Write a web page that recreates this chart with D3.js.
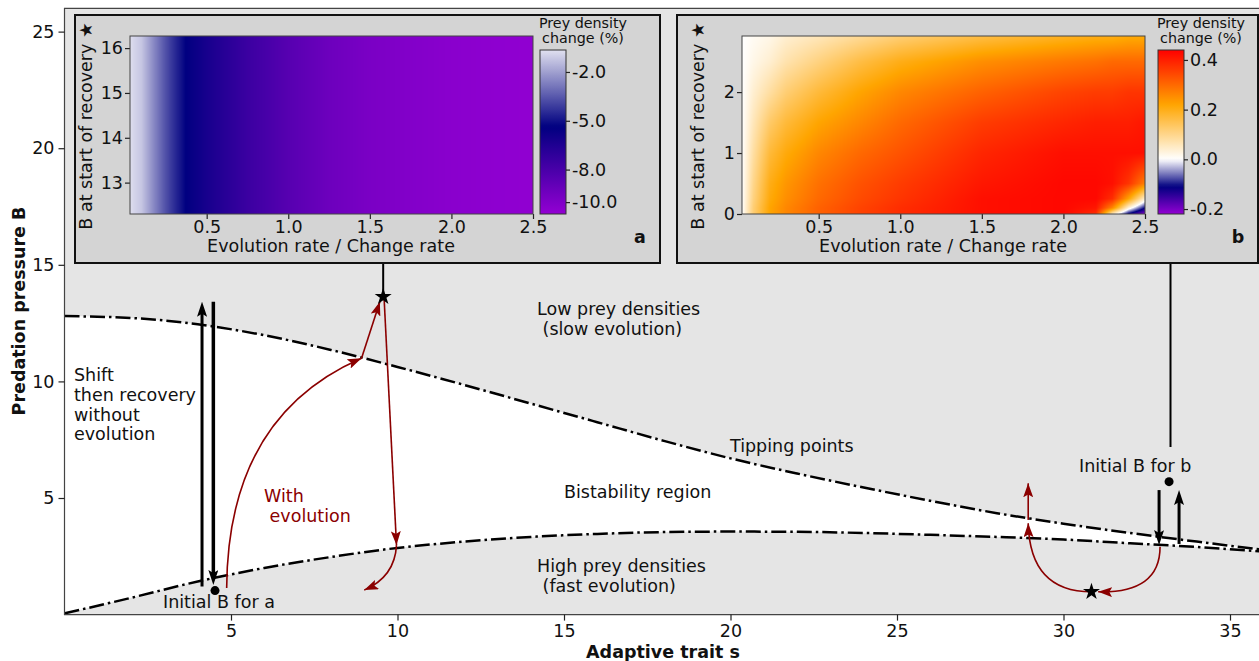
<!DOCTYPE html>
<html>
<head>
<meta charset="utf-8">
<script src="https://cdn.jsdelivr.net/npm/d3@7"></script>
<style>
body { margin: 0; background: #fff; }
text { font-family: "DejaVu Sans", sans-serif; }
</style>
</head>
<body>
<svg id="chart" width="1259" height="661"></svg>
<script>
// main panel: tipping point curves
var traitS = [0, 2, 4, 6, 8, 10, 12, 14, 16, 18, 20, 22, 24, 26, 28, 30, 32, 34, 36];
var upperB = [12.80, 12.72, 12.45, 11.98, 11.35, 10.62, 9.85, 9.05, 8.25, 7.45, 6.70, 6.05, 5.45, 4.88, 4.35, 3.90, 3.50, 3.13, 2.78];
var lowerB = [0.05, 0.72, 1.42, 2.00, 2.47, 2.86, 3.13, 3.33, 3.46, 3.54, 3.56, 3.55, 3.50, 3.42, 3.33, 3.22, 3.06, 2.90, 2.70];
var xTicks = [5, 10, 15, 20, 25, 30, 35];
var yTicks = [5, 10, 15, 20, 25];

// inset a: prey density change, depends on rate only
var rateA = [0.03, 0.1, 0.17, 0.25, 0.3, 0.375, 0.5, 0.75, 1.0, 1.25, 1.5, 1.75, 2.0, 2.25, 2.5];
var changeA = [-0.7, -1.2, -2.4, -3.7, -4.4, -5.4, -6.2, -7.5, -8.5, -9.3, -9.8, -10.1, -10.35, -10.5, -10.6];
var recoveryA = [12.3, 16.27];
var yTicksA = [13, 14, 15, 16];
var cbTicksA = [-2, -5, -8, -10];

// inset b: grid, rows = B at start of recovery, cols = rate
var rateB = [0.03, 0.1, 0.2, 0.3, 0.5, 0.75, 1.0, 1.5, 2.0, 2.2, 2.3, 2.4, 2.5];
var recoveryB = [0, 0.1, 0.25, 0.5, 1.0, 1.5, 2.0, 2.5, 2.92];
var changeB = [
  [0.00, 0.12, 0.22, 0.26, 0.31, 0.35, 0.38, 0.42, 0.43, 0.38, 0.05, -0.12, -0.21],
  [0.00, 0.12, 0.22, 0.26, 0.31, 0.35, 0.38, 0.42, 0.43, 0.41, 0.26, 0.03, -0.11],
  [0.00, 0.11, 0.21, 0.25, 0.30, 0.34, 0.37, 0.42, 0.43, 0.43, 0.38, 0.22, 0.04],
  [0.00, 0.10, 0.20, 0.24, 0.29, 0.33, 0.36, 0.41, 0.43, 0.43, 0.42, 0.37, 0.27],
  [0.00, 0.08, 0.17, 0.21, 0.26, 0.30, 0.33, 0.39, 0.42, 0.42, 0.42, 0.42, 0.42],
  [0.00, 0.06, 0.13, 0.17, 0.22, 0.26, 0.30, 0.36, 0.39, 0.40, 0.40, 0.40, 0.41],
  [0.00, 0.04, 0.08, 0.12, 0.17, 0.22, 0.26, 0.31, 0.35, 0.36, 0.36, 0.37, 0.37],
  [0.00, 0.02, 0.04, 0.07, 0.11, 0.16, 0.20, 0.25, 0.28, 0.29, 0.30, 0.30, 0.30],
  [0.00, 0.01, 0.02, 0.04, 0.06, 0.09, 0.12, 0.16, 0.19, 0.20, 0.20, 0.21, 0.21]
];
var yTicksB = [0, 1, 2];
var cbTicksB = [-0.2, 0, 0.2, 0.4];
var rateTicks = [0.5, 1.0, 1.5, 2.0, 2.5];

// annotation arrows (trait s, B)
var blackArrows = [
  { from: [4.13, 1.2], to: [4.13, 13.42], w: 3 },
  { from: [4.47, 13.42], to: [4.47, 1.27], w: 3.5 },
  { from: [32.87, 5.34], to: [32.87, 2.98], w: 3 },
  { from: [33.47, 3.03], to: [33.47, 5.34], w: 3 }
];
var redArrows = [
  { from: [4.87, 1.14], ctrl: [4.9, 8.5], to: [8.92, 10.99] },
  { from: [8.92, 10.99], to: [9.47, 13.42] },
  { from: [9.6, 13.5], to: [9.97, 2.98] },
  { from: [9.97, 2.98], ctrl: [9.92, 1.62], to: [9.0, 1.05] },
  { from: [32.9, 2.91], ctrl: [32.9, 0.91], to: [31.04, 0.98] },
  { from: [30.84, 0.98], ctrl: [28.99, 0.98], to: [28.94, 3.92] },
  { from: [28.94, 4.06], to: [28.94, 5.63] }
];
var stars = [[9.57, 13.63], [30.84, 0.98]];
var initialDots = [[4.52, 1.03], [33.17, 5.7]];

var FS = 17.5;
var RED = "#8b0000";
var svg = d3.select("#chart");
var defs = svg.append("defs");

var x = d3.scaleLinear().domain([0, 36]).range([64.5, 1263.3]);
var y = d3.scaleLinear().domain([0, 26]).range([614.6, 8.3]);

var cmapB = d3.scaleLinear()
  .domain([-0.22, -0.11, 0, 0.22, 0.44])
  .range(["#9400d3", "#000080", "#ffffff", "#ffa500", "#ff0000"])
  .clamp(true);
var cmapA = d3.scaleLinear()
  .domain([-10.73, -5.365, 0])
  .range(["#9400d3", "#000080", "#ffffff"])
  .clamp(true);

function arrowHead(id, color, len, wid) {
  defs.append("marker")
    .attr("id", id)
    .attr("markerUnits", "userSpaceOnUse")
    .attr("viewBox", (-len) + " " + (-wid / 2) + " " + len + " " + wid)
    .attr("markerWidth", len)
    .attr("markerHeight", wid)
    .attr("refX", 0).attr("refY", 0)
    .attr("orient", "auto")
    .append("path")
    .attr("d", "M0,0L" + (-len) + "," + (-wid / 2) + "L" + (-len * 0.8) + ",0L" + (-len) + "," + (wid / 2) + "Z")
    .attr("fill", color);
}
arrowHead("headK", "#000", 15, 10);
arrowHead("headR", RED, 14, 10);

function styleAxis(g) {
  g.select(".domain").remove();
  g.selectAll(".tick line").attr("stroke", "#222").attr("stroke-width", 1.2);
  g.selectAll(".tick text").attr("font-size", FS).attr("font-family", "DejaVu Sans").attr("fill", "#111");
}

// ---- main axes ----
svg.append("rect")
  .attr("x", x(0)).attr("y", y(26))
  .attr("width", x(36) - x(0)).attr("height", y(0) - y(26))
  .attr("fill", "#e5e5e5");

var idx = d3.range(traitS.length);
svg.append("path")
  .datum(idx)
  .attr("d", d3.area()
    .curve(d3.curveMonotoneX)
    .x(function(i) { return x(traitS[i]); })
    .y0(function(i) { return y(lowerB[i]); })
    .y1(function(i) { return y(upperB[i]); }))
  .attr("fill", "#fff");

[upperB, lowerB].forEach(function(series) {
  svg.append("path")
    .datum(idx)
    .attr("d", d3.line()
      .curve(d3.curveMonotoneX)
      .x(function(i) { return x(traitS[i]); })
      .y(function(i) { return y(series[i]); }))
    .attr("fill", "none")
    .attr("stroke", "#000")
    .attr("stroke-width", 2.5)
    .attr("stroke-dasharray", "15,4,2.5,4");
});

// spines
svg.append("path")
  .attr("d", "M" + x(36) + "," + y(26) + "H" + x(0) + "V" + y(0) + "H" + x(36))
  .attr("fill", "none").attr("stroke", "#444").attr("stroke-width", 1.2);

svg.append("g")
  .attr("transform", "translate(0," + y(0) + ")")
  .call(d3.axisBottom(x).tickValues(xTicks).tickSize(6).tickPadding(4))
  .call(styleAxis);
svg.append("g")
  .attr("transform", "translate(" + x(0) + ",0)")
  .call(d3.axisLeft(y).tickValues(yTicks).tickSize(6).tickPadding(4))
  .call(styleAxis);

svg.append("text")
  .attr("x", 663).attr("y", 658)
  .attr("text-anchor", "middle").attr("font-size", FS).attr("font-weight", "bold").style("fill", "#111")
  .text("Adaptive trait s");
svg.append("text")
  .attr("transform", "translate(25,311) rotate(-90)")
  .attr("text-anchor", "middle").attr("font-size", FS).attr("font-weight", "bold").style("fill", "#111")
  .text("Predation pressure B");

// region labels
function lines(px, py, arr, color) {
  var t = svg.append("text").attr("font-size", FS).style("fill", color || "#111")
    .attr("xml:space", "preserve");
  arr.forEach(function(s, i) {
    t.append("tspan").attr("x", px).attr("y", py + i * 19.8).text(s);
  });
  return t;
}
lines(74, 381, ["Shift", "then recovery", "without", "evolution"]);
lines(264, 502, ["With", " evolution"], RED);
lines(537, 315, ["Low prey densities", " (slow evolution)"]);
lines(537, 572, ["High prey densities", " (fast evolution)"]);
lines(564, 498, ["Bistability region"]);
lines(730, 452, ["Tipping points"]);
lines(163, 608, ["Initial B for a"]);
lines(1079, 472, ["Initial B for b"]);

// connectors from insets
svg.append("line").attr("x1", x(stars[0][0])).attr("x2", x(stars[0][0]))
  .attr("y1", 263).attr("y2", y(stars[0][1]) - 4)
  .attr("stroke", "#000").attr("stroke-width", 2);
svg.append("line").attr("x1", 1170.5).attr("x2", 1170.5)
  .attr("y1", 263).attr("y2", 447)
  .attr("stroke", "#000").attr("stroke-width", 2);

// arrows
blackArrows.forEach(function(a) {
  var x1 = x(a.from[0]), y1 = y(a.from[1]), x2 = x(a.to[0]), y2 = y(a.to[1]);
  var dy = y2 > y1 ? -8 : 8;
  svg.append("line")
    .attr("x1", x1).attr("y1", y1).attr("x2", x2).attr("y2", y2 + dy)
    .attr("stroke", "#000").attr("stroke-width", a.w);
  svg.append("line")
    .attr("x1", x2).attr("y1", y2 + dy * 1.2).attr("x2", x2).attr("y2", y2)
    .attr("stroke", "none").attr("marker-end", "url(#headK)");
});
redArrows.forEach(function(a) {
  var d = "M" + x(a.from[0]) + "," + y(a.from[1]);
  if (a.ctrl) d += "Q" + x(a.ctrl[0]) + "," + y(a.ctrl[1]) + " " + x(a.to[0]) + "," + y(a.to[1]);
  else d += "L" + x(a.to[0]) + "," + y(a.to[1]);
  svg.append("path").attr("d", d)
    .attr("fill", "none").attr("stroke", RED).attr("stroke-width", 1.6)
    .attr("marker-end", "url(#headR)");
});

svg.selectAll(".star").data(stars).enter().append("path")
  .attr("transform", function(d) { return "translate(" + x(d[0]) + "," + y(d[1]) + ")"; })
  .attr("d", d3.symbol().type(d3.symbolStar).size(90))
  .attr("fill", "#000");
svg.selectAll(".dot").data(initialDots).enter().append("circle")
  .attr("cx", function(d) { return x(d[0]); })
  .attr("cy", function(d) { return y(d[1]); })
  .attr("r", 4.5).attr("fill", "#000");

// ---- insets ----
function heatImage(g, xs, ys, grid, cmap, sx, sy) {
  var x0 = sx.range()[0], x1 = sx.range()[1];
  var y0 = sy.range()[1], y1 = sy.range()[0];
  var w = Math.round(x1 - x0), h = Math.round(y1 - y0);
  var cv = document.createElement("canvas");
  cv.width = w; cv.height = h;
  var ctx = cv.getContext("2d");
  var img = ctx.createImageData(w, h);
  function locate(arr, v) {
    var j = Math.min(Math.max(d3.bisectRight(arr, v) - 1, 0), arr.length - 2);
    var t = Math.min(Math.max((v - arr[j]) / (arr[j + 1] - arr[j]), 0), 1);
    return [j, t];
  }
  for (var py = 0; py < h; py++) {
    var r = locate(ys, sy.invert(y0 + py + 0.5));
    for (var px = 0; px < w; px++) {
      var c = locate(xs, sx.invert(x0 + px + 0.5));
      var a0 = grid[r[0]][c[0]], a1 = grid[r[0]][c[0] + 1];
      var b0 = grid[r[0] + 1][c[0]], b1 = grid[r[0] + 1][c[0] + 1];
      var top = a0 + (a1 - a0) * c[1], bot = b0 + (b1 - b0) * c[1];
      var v = top + (bot - top) * r[1];
      var col = d3.rgb(cmap(v));
      var k = (py * w + px) * 4;
      img.data[k] = col.r; img.data[k + 1] = col.g; img.data[k + 2] = col.b; img.data[k + 3] = 255;
    }
  }
  ctx.putImageData(img, 0, 0);
  g.append("image").attr("x", x0).attr("y", y0).attr("width", w).attr("height", h)
    .attr("preserveAspectRatio", "none")
    .attr("href", cv.toDataURL());
  g.append("rect").attr("x", x0).attr("y", y0).attr("width", w).attr("height", h)
    .attr("fill", "none").attr("stroke", "#444").attr("stroke-width", 1);
}

function colorbar(g, id, cx, cw, cy0, cy1, dom, cmap, ticks, titleX) {
  var sc = d3.scaleLinear().domain(dom).range([cy1, cy0]);
  var grad = defs.append("linearGradient").attr("id", id)
    .attr("x1", 0).attr("y1", 0).attr("x2", 0).attr("y2", 1);
  d3.range(0, 1.0001, 0.02).forEach(function(o) {
    grad.append("stop").attr("offset", o).attr("stop-color", cmap(dom[1] - o * (dom[1] - dom[0])));
  });
  g.append("rect").attr("x", cx).attr("y", cy0).attr("width", cw).attr("height", cy1 - cy0)
    .attr("fill", "url(#" + id + ")").attr("stroke", "#333").attr("stroke-width", 1);
  g.append("g").attr("transform", "translate(" + (cx + cw) + ",0)")
    .call(d3.axisRight(sc).tickValues(ticks).tickSize(4).tickPadding(2)
      .tickFormat(function(d) { return d.toFixed(1); }))
    .call(styleAxis);
  var t = g.append("text").attr("text-anchor", "middle").attr("font-size", 14.3).style("fill", "#111");
  t.append("tspan").attr("x", titleX).attr("y", 28).text("Prey density");
  t.append("tspan").attr("x", titleX).attr("y", 43).text("change (%)");
}

function inset(bx0, bx1, hx0, yDom, yTicks, letter) {
  var g = svg.append("g");
  g.append("rect").attr("x", bx0).attr("y", 15).attr("width", bx1 - bx0).attr("height", 248)
    .attr("fill", "#d4d4d4").attr("stroke", "#111").attr("stroke-width", 2);
  var sx = d3.scaleLinear().domain([0.03, 2.5]).range([hx0, hx0 + 403]);
  var sy = d3.scaleLinear().domain(yDom).range([214, 36]);
  g.append("g").attr("transform", "translate(0,214)")
    .call(d3.axisBottom(sx).tickValues(rateTicks).tickSize(5).tickPadding(2)
      .tickFormat(function(d) { return d.toFixed(1); }))
    .call(styleAxis);
  g.append("g").attr("transform", "translate(" + hx0 + ",0)")
    .call(d3.axisLeft(sy).tickValues(yTicks).tickSize(5).tickPadding(2).tickFormat(d3.format("d")))
    .call(styleAxis);
  g.append("text").attr("x", hx0 + 201).attr("y", 252).attr("text-anchor", "middle")
    .attr("font-size", FS).style("fill", "#111").text("Evolution rate / Change rate");
  g.append("text").attr("transform", "translate(" + (hx0 - 38) + ",126) rotate(-90)")
    .attr("text-anchor", "middle").attr("font-size", FS).style("fill", "#111")
    .text("B at start of recovery \u2605");
  g.append("text").attr("x", bx1 - 20).attr("y", 243).attr("text-anchor", "middle")
    .attr("font-size", FS).attr("font-weight", "bold").style("fill", "#111").text(letter);
  return { g: g, sx: sx, sy: sy };
}

var ia = inset(75, 660, 130, [12.3, 16.27], yTicksA, "a");
heatImage(ia.g, rateA, recoveryA, [changeA, changeA], cmapA, ia.sx, ia.sy);
colorbar(ia.g, "cbA", 540, 26, 50, 214, [-10.73, -0.65], cmapA, cbTicksA, 583);

var ib = inset(677, 1258, 742, [0, 2.92], yTicksB, "b");
heatImage(ib.g, rateB, recoveryB, changeB, cmapB, ib.sx, ib.sy);
colorbar(ib.g, "cbB", 1158, 26, 50, 214, [-0.22, 0.44], cmapB, cbTicksB, 1201);
</script>
</body>
</html>
